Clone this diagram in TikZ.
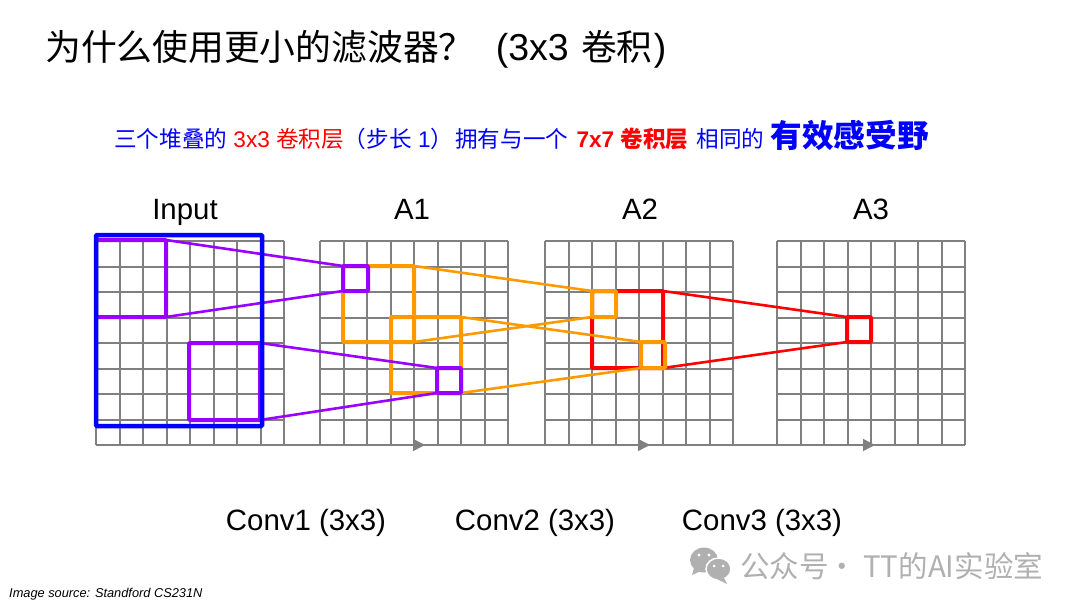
\documentclass[tikz,border=0pt]{standalone}
\usepackage{xcolor}
\usepackage{fontspec}
\setmainfont{Liberation Sans}
\newfontfamily\cjk{Noto Sans CJK SC}
\usetikzlibrary{arrows.meta,positioning}

\definecolor{cellgray}{HTML}{808080}
\definecolor{rfblue}{HTML}{0000FF}
\definecolor{rfpurple}{HTML}{9900FF}
\definecolor{rforange}{HTML}{FF9900}
\definecolor{rfred}{HTML}{FF0000}
\definecolor{markgray}{HTML}{B0B0B0}

\newcommand{\fsz}[1]{\fontsize{#1}{#1}\selectfont}

\begin{document}
\begin{tikzpicture}[x=1pt,y=-1pt,
	cell/.style={draw=cellgray,line width=2pt},
	win/.style n args={3}{draw=#1,line width=4pt,rounded corners=1pt,inner sep=0pt,outer sep=0pt,minimum width=#2pt,minimum height=#3pt},
	ray/.style={draw=#1,line width=2.6pt},
	flow/.style={draw=cellgray,line width=1.5pt,-{Triangle[length=12pt,width=12pt]}},
	layer/.style={anchor=base,inner sep=0pt,font=\fsz{29.4}}]

	\useasboundingbox (0,0) rectangle (1080,608);

	% The texts
	\node [anchor=west,inner sep=0pt] at (45,49) (title) {\fsz{35.8}{\cjk 为什么使用更小的滤波器？}\hspace{21pt}{\fsz{37.5}(3x3 }\hspace{2pt}{\cjk 卷积}\hspace{1pt}{\fsz{37.5})}};
	\node [anchor=base west,inner sep=0pt] at (114,147) (claim) {\fsz{22.6}\color{rfblue}{\cjk 三个堆叠的} \textcolor{rfred}{3x3 {\cjk 卷积层}}{\cjk （步长} 1{\cjk ）}\hspace{2pt}{\cjk 拥有与一个}\hspace{2pt} \textcolor{rfred}{\bfseries 7x7 {\cjk 卷积层}}\hspace{2pt} {\cjk 相同的} {\fsz{31.6}\cjk\bfseries 有效感受野}};

	\node [layer] at (185,219) (input) {Input};
	\node [layer] at (412,219) (a1) {A1};
	\node [layer] at (640,219) (a2) {A2};
	\node [layer] at (871,219) (a3) {A3};

	\node [layer] at (306,530) (conv1) {Conv1 (3x3)};
	\node [layer] at (535,530) (conv2) {Conv2 (3x3)};
	\node [layer] at (762,530) (conv3) {Conv3 (3x3)};

	\node [anchor=west,inner sep=0pt] at (9,594.5) (source) {\fsz{12.8}\itshape Image source: Standford CS231N};

	% The grids
	\foreach \gx in {96,320,545,777}{
		\foreach \i in {0,...,8}{
			\draw [cell] ({\gx+round(\i*23.5)},241) -- ({\gx+round(\i*23.5)},445);
			\draw [cell] (\gx,{241+round(\i*25.5)}) -- (\gx+188,{241+round(\i*25.5)});
		}
	}

	% Arrows under the grids
	\coordinate (f0) at (200,445);
	\coordinate (f1) at (425,445);
	\coordinate (f2) at (650,445);
	\coordinate (f3) at (875,445);
	\draw [flow] (f0) -- (f1);
	\draw [flow] (f1) -- (f2);
	\draw [flow] (f2) -- (f3);

	% Red windows
	\node [win={rfred}{71}{77}] at (627.5,329.5) (redbig) {};
	\node [win={rfred}{24}{25}] at (859,329.5) (redout) {};
	\path [ray=rfred] (redbig.north east) edge (redout.north west);
	\path [ray=rfred] (redbig.south east) edge (redout.south west);

	% Orange windows
	\node [win={rforange}{71}{76}] at (378.5,304) (orbiga) {};
	\node [win={rforange}{70}{76}] at (426,355) (orbigb) {};
	\node [win={rforange}{24}{26}] at (604,304) (oroutb) {};
	\node [win={rforange}{24}{26}] at (653,355) (orouta) {};
	\path [ray=rforange] (orbiga.north east) edge (oroutb.north west);
	\path [ray=rforange] (orbiga.south east) edge (oroutb.south west);
	\path [ray=rforange] (orbigb.north east) edge (orouta.north west);
	\path [ray=rforange] (orbigb.south east) edge (orouta.south west);

	% Purple windows
	\node [win={rfpurple}{70}{77}] at (131,278.5) (pubiga) {};
	\node [win={rfpurple}{71}{77}] at (224.5,381.5) (pubigb) {};
	\node [win={rfpurple}{25}{25}] at (355.5,278.5) (puouta) {};
	\node [win={rfpurple}{24}{25}] at (449,380.5) (puoutb) {};
	\path [ray=rfpurple] (pubiga.north east) edge (puouta.north west);
	\path [ray=rfpurple] (pubiga.south east) edge (puouta.south west);
	\path [ray=rfpurple] (pubigb.north east) edge (puoutb.north west);
	\path [ray=rfpurple] (pubigb.south east) edge (puoutb.south west);

	% Blue window
	\node [win={rfblue}{166}{191},line width=4.5pt] at (179,330.5) (blue) {};

	% Watermark
	\fill [markgray] (704,560) ellipse (14 and 12.5);
	\fill [markgray] (694,568) -- (692,575) -- (701,571) -- cycle;
	\draw [white,line width=1.5pt,fill=markgray] (718.5,569) ellipse (12.5 and 11);
	\fill [markgray] (724,578) -- (727,584) -- (717,579) -- cycle;
	\foreach \ex in {699,709}{\fill [white] (\ex,555) circle (1.7);}
	\foreach \ex in {714,723}{\fill [white] (\ex,566) circle (1.5);}
	\node [anchor=west,inner sep=0pt,text=markgray] at (740,566) (mark) {\fsz{29.5}\cjk 公众号\hspace{-1pt}·\hspace{6pt}TT的AI实验室};

\end{tikzpicture}
\end{document}
